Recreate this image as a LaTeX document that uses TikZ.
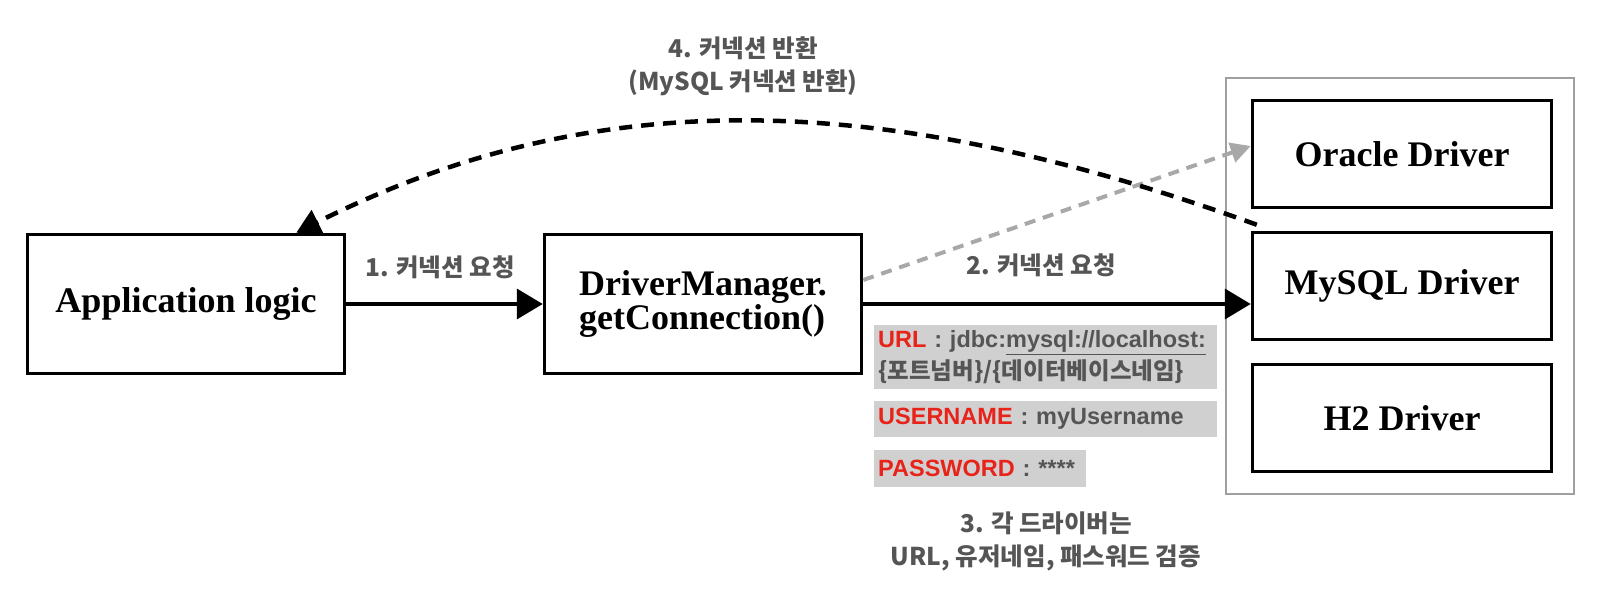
\documentclass[tikz,border=0pt]{standalone}
\usepackage{fontspec}
\setmainfont{Liberation Serif}
\newfontfamily\latinsans{Liberation Sans}
\newfontfamily\krfont{Noto Sans CJK KR}
\usetikzlibrary{arrows.meta}
\definecolor{labelgray}{HTML}{555555}
\definecolor{keyred}{HTML}{E8231A}
\definecolor{fieldgray}{HTML}{D0D0D0}
\definecolor{hintgray}{HTML}{A8A8A8}
\definecolor{framegray}{HTML}{A0A0A0}

\begin{document}
\begin{tikzpicture}[x=1pt,y=-1pt,
    component/.style ={draw, line width=3.5pt, minimum width=317pt, minimum height=139pt,
      align=left, font=\bfseries\fontsize{36}{34}\selectfont},
    driver/.style ={draw, line width=3.5pt, minimum width=299pt, minimum height=107pt,
      font=\bfseries\fontsize{36}{40}\selectfont},
    steplabel/.style ={text=labelgray, align=center, font=\krfont\bfseries\fontsize{24.5}{33}\selectfont},
    field/.style ={fill=fieldgray, anchor=north west, inner xsep=4pt, inner ysep=3pt, align=left,
      text=labelgray, font=\latinsans\bfseries\fontsize{23.5}{32}\selectfont},
    flow/.style ={line width=4pt, -{Triangle[length=26pt,width=30pt]}}]
   \useasboundingbox (0,0) rectangle (1601,605);

   \node[draw=framegray, line width=2.5pt, minimum width=348pt, minimum height=416pt] (registry) at (1400,286) {};
   \node[component] (app)    at (186,304)  {Application logic};
   \node[component] (dm)     at (703,304)  {DriverManager.\\getConnection()};
   \node[driver]    (oracle) at (1402,154) {Oracle Driver};
   \node[driver]    (mysql)  at (1402,286) {MySQL Driver};
   \node[driver]    (h2)     at (1402,418) {H2 Driver};

   \node[field, text width=335pt, minimum height=64pt] (url) at (874,325)
     {\textcolor{keyred}{URL} : jdbc:\underline{mysql://localhost:}\\{\krfont\bfseries \{포트넘버\}/\{데이터베이스네임\}}};
   \node[field, text width=335pt, minimum height=36pt] (user) at (874,401)
     {\textcolor{keyred}{USERNAME} : myUsername};
   \node[field, text width=204pt, minimum height=37pt] (pass) at (874,450)
     {\textcolor{keyred}{PASSWORD} : ****};

   \node[steplabel] (request1) at (440,267)  {1. 커넥션 요청};
   \node[steplabel] (request2) at (1041,265) {2. 커넥션 요청};
   \node[steplabel] (verify)   at (1046,541) {3. 각 드라이버는\\URL, 유저네임, 패스워드 검증};
   \node[steplabel] (giveback) at (743,66)   {4. 커넥션 반환\\(MySQL 커넥션 반환)};

   \coordinate (bendA) at (890,92);
   \coordinate (bendB) at (600,80);

   \draw[flow] (app.east) to (dm.west);
   \draw[flow] (dm.east) to (dm.east -| mysql.west);
   \draw[hintgray, line width=4pt, dash pattern=on 11pt off 8pt, -{Triangle[length=20pt,width=20pt]}]
     ([yshift=24pt]dm.east) to ([yshift=8pt]oracle.west);
   \draw[line width=4.5pt, dash pattern=on 13pt off 9pt, -{Triangle[length=24pt,width=26pt]}]
     ([xshift=6pt,yshift=6pt]mysql.north west) .. controls (bendA) and (bendB) .. ([xshift=-50pt]app.north east);
 \end{tikzpicture}
\end{document}
